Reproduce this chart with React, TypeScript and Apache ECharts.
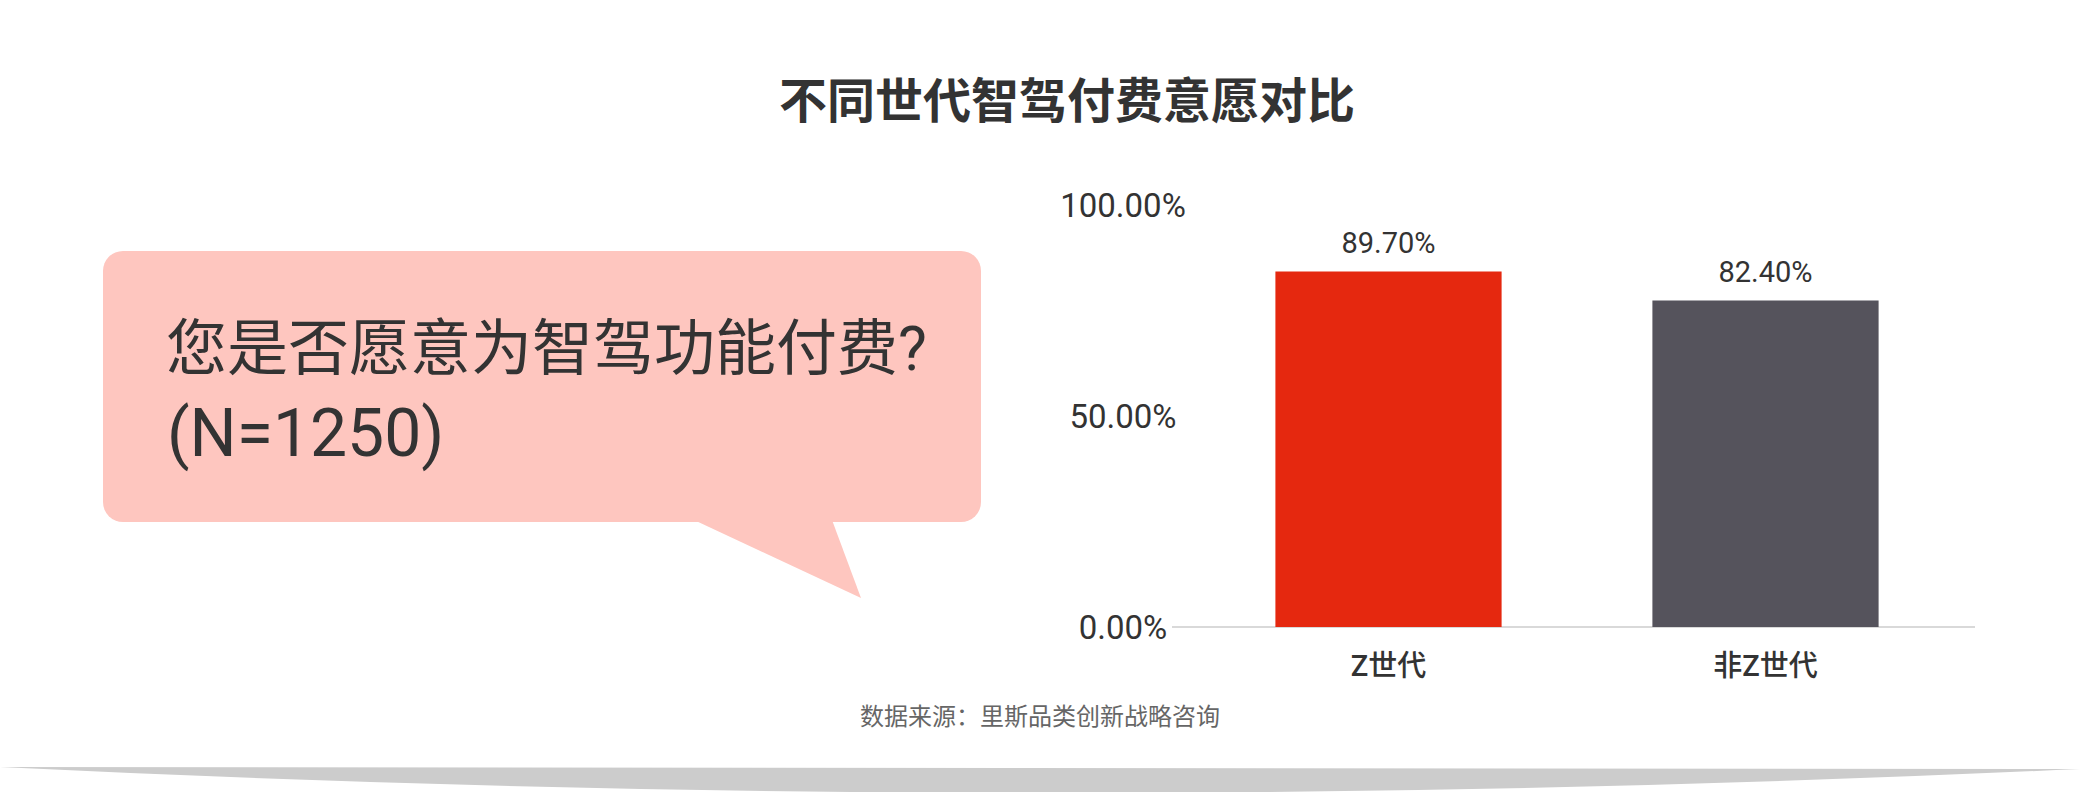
import React, { useEffect, useRef } from "react";
import * as echarts from "echarts";

const categories = ["Z世代", "非Z世代"];
const values = [89.7, 82.4];
const barColors = ["#E5280F", "#55535C"];
const yTickMax = 100;
const yTickInterval = 50;
const barScaleMax = 106.5;

const titleText = "不同世代智驾付费意愿对比";
const bubbleLines = ["您是否愿意为智驾功能付费?", "(N=1250)"];
const sourceText = "数据来源：里斯品类创新战略咨询";

const FONT = "'Noto Sans CJK SC', 'Noto Sans', sans-serif";
const LATIN = "Roboto, 'Noto Sans CJK SC', sans-serif";

echarts.graphic.registerShape(
  "bottomShadow",
  echarts.graphic.extendPath("M0 767 L2080 769 Q1040 818 0 767 Z", {})
);

export default function App() {
  const ref = useRef<HTMLDivElement>(null);
  useEffect(() => {
    if (!ref.current) return;
    const chart = echarts.init(ref.current, undefined, { renderer: "svg" });
    const fmt = (v: number) => v.toFixed(2) + "%";
    chart.setOption({
      animation: false,
      backgroundColor: "#ffffff",
      textStyle: { fontFamily: FONT },
      title: {
        text: titleText,
        left: 1062,
        top: 68,
        textAlign: "center",
        textStyle: { fontSize: 48, fontWeight: "bold", color: "#333333", fontFamily: FONT },
      },
      grid: { left: 1200, right: 126, top: 205, bottom: 165, containLabel: false },
      xAxis: {
        type: "category",
        data: categories,
        axisLine: { show: false },
        axisTick: { show: false },
        axisLabel: { fontSize: 29, fontWeight: 500, color: "#333333", margin: 24, fontFamily: LATIN },
      },
      yAxis: [
        {
          type: "value",
          min: 0,
          max: yTickMax,
          interval: yTickInterval,
          axisLine: { show: false },
          axisTick: { show: false },
          splitLine: { show: false },
          axisLabel: {
            formatter: (v: number) => fmt(v),
            align: "center",
            margin: 77,
            fontSize: 33,
            color: "#333333",
            fontFamily: LATIN,
          },
        },
        { type: "value", min: 0, max: barScaleMax, show: false, splitLine: { show: false } },
      ],
      series: [
        {
          type: "bar",
          yAxisIndex: 1,
          barWidth: "60%",
          data: values.map((v, i) => ({ value: v, itemStyle: { color: barColors[i] } })),
          label: {
            show: true,
            position: "top",
            distance: 14,
            formatter: (p: any) => fmt(p.value),
            fontSize: 29,
            color: "#333333",
            fontFamily: LATIN,
          },
        },
      ],
      graphic: [
        {
          type: "line",
          shape: { x1: 1172, y1: 627, x2: 1975, y2: 627 },
          style: { stroke: "#d9d9d9", lineWidth: 2 },
          z: 0,
        },
        {
          type: "rect",
          shape: { x: 103, y: 251, width: 878, height: 271, r: 20 },
          style: { fill: "#FEC6BF" },
        },
        {
          type: "polygon",
          shape: { points: [[694, 520], [861, 598], [832, 520]] },
          style: { fill: "#FEC6BF" },
        },
        {
          type: "text",
          x: 166,
          y: 349,
          style: {
            text: bubbleLines[0],
            fontSize: 61,
            fill: "#333333",
            fontFamily: LATIN,
            textVerticalAlign: "middle",
            verticalAlign: "middle",
          },
        },
        {
          type: "text",
          x: 167,
          y: 433,
          style: {
            text: bubbleLines[1],
            fontSize: 66,
            fill: "#333333",
            fontFamily: LATIN,
            textVerticalAlign: "middle",
            verticalAlign: "middle",
          },
        },
        {
          type: "text",
          x: 1040,
          y: 714,
          style: {
            text: sourceText,
            fontSize: 24,
            fill: "#666666",
            fontFamily: FONT,
            align: "center",
            textAlign: "center",
            verticalAlign: "middle",
            textVerticalAlign: "middle",
          },
        },
        {
          type: "bottomShadow",
          x: 0,
          y: 0,
          style: { fill: "#cccccc" },
        },
      ],
    });
    return () => chart.dispose();
  }, []);
  return (
    <div
      ref={ref}
      style={{ position: "absolute", left: 0, top: 0, width: 2080, height: 792 }}
    />
  );
}
